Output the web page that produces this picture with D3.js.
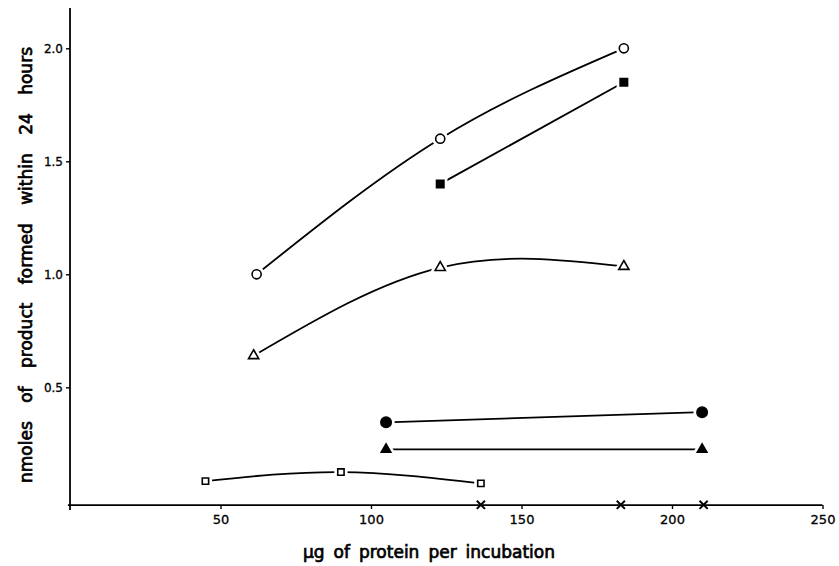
<!DOCTYPE html>
<html>
<head>
<meta charset="utf-8">
<script src="https://cdn.jsdelivr.net/npm/d3@7"></script>
<style>
  body { margin: 0; background: #fff; }
</style>
</head>
<body>
<div id="chart"></div>
<script>
// values (x = ug protein, y = nmoles)
let openCircle   = [[62, 1.0], [123, 1.6], [184, 2.0]];
let filledSquare = [[123, 1.4], [184, 1.85]];
let openTri      = [[61, 0.64], [123, 1.03], [184, 1.035]];
let filledCircle = [[105, 0.345], [210, 0.39]];
let filledTri    = [[105, 0.225], [210, 0.225]];
let openSquare   = [[45, 0.085], [90, 0.125], [136.5, 0.075]];
let crosses      = [[136.5, -0.02], [183, -0.02], [210.5, -0.02]];

let xTicks = [50, 100, 150, 200, 250];
let yTicks = [0.5, 1.0, 1.5, 2.0];
let xLabelText = 'µg of protein per incubation';
let yLabelText = 'nmoles of product formed within 24 hours';

let width = 839, height = 566;

let svg = d3.select('#chart')
  .append('svg')
  .attr('width', width)
  .attr('height', height)
  .style('background-color', '#fff');

let xScale = d3.scaleLinear().domain([0, 250]).range([70, 822.5]);
let yScale = d3.scaleLinear().domain([0, 2.0]).range([500.3, 48.3]);
let baseY = yScale(-0.021); // x axis sits a little under zero

// axes
let xAxis = svg.append('g')
  .attr('transform', `translate(0,${baseY})`)
  .call(d3.axisBottom(xScale).tickValues(xTicks).tickSize(4).tickPadding(6).tickFormat(d3.format('d')));
xAxis.select('.domain').attr('d', `M${xScale(-0.7)},0H${xScale(250)}`);

let yAxis = svg.append('g')
  .attr('transform', `translate(${xScale(0)},0)`)
  .call(d3.axisLeft(yScale).tickValues(yTicks).tickSize(4).tickPadding(3).tickFormat(d3.format('.1f')));
yAxis.select('.domain').attr('d', `M0,8V${baseY + 5}`);

svg.selectAll('.domain').attr('stroke', '#000').attr('stroke-width', 1.8);
svg.selectAll('.tick line').attr('stroke', '#000').attr('stroke-width', 1.4);
xAxis.selectAll('text').style('font', '13px "DejaVu Sans"').attr('fill', '#000').attr('stroke', '#000').attr('stroke-width', 0.3);
yAxis.selectAll('text').style('font', '12px "DejaVu Sans"').attr('fill', '#000').attr('stroke', '#000').attr('stroke-width', 0.3);

// axis labels: wide gaps between words like the original lettering
function spreadWords(sel, target) {
  let natural = sel.node().getComputedTextLength();
  let gaps = sel.text().split(' ').length - 1;
  sel.style('word-spacing', Math.max(0, (target - natural) / gaps) + 'px');
}

let xLabel = svg.append('text')
  .attr('x', 429)
  .attr('y', 558)
  .attr('text-anchor', 'middle')
  .attr('stroke', '#000')
  .attr('stroke-width', 0.7)
  .style('font', '17px "DejaVu Sans"')
  .text(xLabelText);
spreadWords(xLabel, 252);

let yLabel = svg.append('text')
  .attr('transform', 'translate(32,265) rotate(-90)')
  .attr('text-anchor', 'middle')
  .attr('stroke', '#000')
  .attr('stroke-width', 0.7)
  .style('font', '17px "DejaVu Sans"')
  .text(yLabelText);
spreadWords(yLabel, 436);

// curves
let line = d3.line()
  .x(d => xScale(d[0]))
  .y(d => yScale(d[1]))
  .curve(d3.curveNatural);

[openCircle, filledSquare, openTri, filledCircle, filledTri, openSquare].forEach(s => {
  svg.append('path')
    .datum(s)
    .attr('d', line)
    .attr('fill', 'none')
    .attr('stroke', '#000')
    .attr('stroke-width', 1.8);
});

// markers, white halo makes the small gap between line and symbol
function markers(data, shape, size, filled) {
  svg.append('g').selectAll('path')
    .data(data)
    .enter().append('path')
    .attr('transform', d => `translate(${xScale(d[0])},${yScale(d[1])})`)
    .attr('d', d3.symbol().type(shape).size(size))
    .attr('fill', filled ? '#000' : '#fff')
    .attr('stroke', '#fff')
    .attr('stroke-width', 7);
  svg.append('g').selectAll('path')
    .data(data)
    .enter().append('path')
    .attr('transform', d => `translate(${xScale(d[0])},${yScale(d[1])})`)
    .attr('d', d3.symbol().type(shape).size(size))
    .attr('fill', filled ? '#000' : '#fff')
    .attr('stroke', '#000')
    .attr('stroke-width', 1.6);
}

markers(openCircle, d3.symbolCircle, 65, false);
markers(filledSquare, d3.symbolSquare, 55, true);
markers(openTri, d3.symbolTriangle, 45, false);
markers(filledCircle, d3.symbolCircle, 85, true);
markers(filledTri, d3.symbolTriangle, 40, true);
markers(openSquare, d3.symbolSquare, 40, false);

// crosses on the axis
svg.append('g').selectAll('path')
  .data(crosses)
  .enter().append('path')
  .attr('transform', d => `translate(${xScale(d[0])},${yScale(d[1])})`)
  .attr('d', d3.symbol().type(d3.symbolTimes).size(45))
  .attr('fill', 'none')
  .attr('stroke', '#000')
  .attr('stroke-width', 2);
</script>
</body>
</html>
